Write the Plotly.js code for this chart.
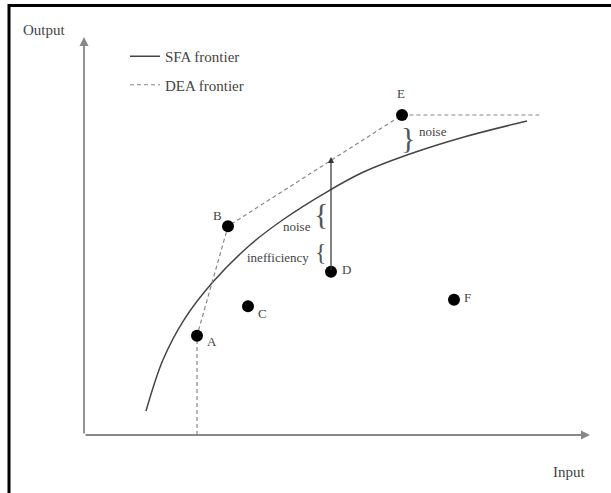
<!DOCTYPE html>
<html>
<head>
<meta charset="utf-8">
<script src="https://cdn.plot.ly/plotly-3.0.1.min.js"></script>
<style>html,body{margin:0;padding:0;background:#fff;}#chart{width:611px;height:493px;}</style>
</head>
<body>
<div id="chart"></div>
<script>
// Firms (observed input/output points)
const pointLabels = ['A', 'B', 'C', 'D', 'E', 'F'];
const pointX = [2.26, 2.88, 3.28, 4.94, 6.36, 7.40];
const pointY = [2.48, 5.22, 3.22, 4.08, 8.00, 3.38];

// SFA frontier (smooth curve)
const sfaX = [1.24, 1.58, 2.00, 2.56, 3.32, 4.00, 4.86, 5.60, 6.46, 7.60, 8.86];
const sfaY = [0.60, 1.88, 2.88, 3.80, 4.75, 5.40, 6.08, 6.58, 7.00, 7.45, 7.85];

// DEA frontier (piecewise linear envelope)
const deaX = [2.26, 2.26, 2.88, 6.36, 9.12];
const deaY = [0.00, 2.48, 5.22, 8.00, 8.00];

const serif = 'Liberation Serif, Times New Roman, serif';
const txt = '#444';

const traces = [
  {x: sfaX, y: sfaY, mode: 'lines', line: {color: '#444', width: 1.5, shape: 'spline'},
   name: 'SFA frontier', legendgroup: 'g1', hoverinfo: 'skip'},
  {x: deaX, y: deaY, mode: 'lines', line: {color: '#888', width: 1.2, dash: '4px,3px'},
   name: 'DEA frontier', legendgroup: 'g2', hoverinfo: 'skip'},
  {x: pointX, y: pointY, mode: 'markers', marker: {color: '#000', size: 12},
   showlegend: false, hoverinfo: 'skip'}
];

const labelOffsets = {A: [0.30, -0.15], B: [-0.22, 0.28], C: [0.28, -0.19], D: [0.30, 0.05], E: [-0.02, 0.53], F: [0.26, 0.07]};
const annotations = [];
pointLabels.forEach((l, i) => {
  annotations.push({x: pointX[i] + labelOffsets[l][0], y: pointY[i] + labelOffsets[l][1], text: l,
    showarrow: false, font: {family: serif, size: 13, color: txt}});
});

// axes arrows
annotations.push({x: 10.12, y: 0, ax: 0, ay: 0, axref: 'x', ayref: 'y', text: '', showarrow: true,
  arrowhead: 2, arrowsize: 1, arrowwidth: 1.8, arrowcolor: '#888'});
annotations.push({x: 0, y: 9.95, ax: 0, ay: 0, axref: 'x', ayref: 'y', text: '', showarrow: true,
  arrowhead: 2, arrowsize: 1, arrowwidth: 1.8, arrowcolor: '#888'});
// vertical arrow from D
annotations.push({x: pointX[3], y: 6.95, ax: pointX[3], ay: pointY[3], axref: 'x', ayref: 'y', text: '', showarrow: true,
  arrowhead: 2, arrowsize: 1, arrowwidth: 1.2, arrowcolor: '#333'});

// axis titles
annotations.push({x: -0.8, y: 10.13, text: 'Output', showarrow: false, font: {family: serif, size: 15, color: txt}});
annotations.push({x: 9.7, y: -0.93, text: 'Input', showarrow: false, font: {family: serif, size: 15, color: txt}});

// braces and labels
annotations.push({x: 6.48, y: 7.43, text: '}', showarrow: false, font: {family: serif, size: 30, color: '#555'}});
annotations.push({x: 6.98, y: 7.6, text: 'noise', showarrow: false, font: {family: serif, size: 13, color: txt}});
annotations.push({x: 4.74, y: 5.55, text: '{', showarrow: false, font: {family: serif, size: 30, color: '#555'}});
annotations.push({x: 4.25, y: 5.22, text: 'noise', showarrow: false, font: {family: serif, size: 13, color: txt}});
annotations.push({x: 4.74, y: 4.58, text: '{', showarrow: false, font: {family: serif, size: 24, color: '#555'}});
annotations.push({x: 3.88, y: 4.43, text: 'inefficiency', showarrow: false, font: {family: serif, size: 13, color: txt}});

const layout = {
  width: 611, height: 493,
  margin: {l: 0, r: 0, t: 0, b: 0},
  paper_bgcolor: '#fff', plot_bgcolor: '#fff',
  xaxis: {range: [-1.68, 10.54], visible: false, fixedrange: true},
  yaxis: {range: [-1.45, 10.875], visible: false, fixedrange: true},
  showlegend: true,
  legend: {x: 125 / 611, y: 1 - 40 / 493, xanchor: 'left', yanchor: 'top', bgcolor: 'rgba(0,0,0,0)',
    font: {family: serif, size: 15, color: txt}, traceorder: 'grouped', tracegroupgap: 6, itemwidth: 30},
  shapes: [
    {type: 'line', xref: 'paper', yref: 'paper', x0: 8 / 611, x1: 1, y0: 1 - 5.5 / 493, y1: 1 - 5.5 / 493, line: {color: '#000', width: 3}},
    {type: 'line', xref: 'paper', yref: 'paper', x0: 9 / 611, x1: 9 / 611, y0: 0, y1: 1 - 4 / 493, line: {color: '#000', width: 3}}
  ],
  annotations: annotations
};

Plotly.newPlot('chart', traces, layout, {displayModeBar: false, staticPlot: true});
</script>
</body>
</html>
